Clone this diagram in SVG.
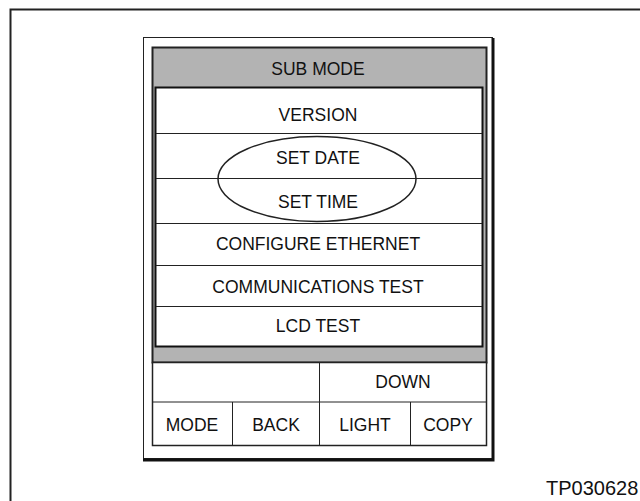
<svg xmlns="http://www.w3.org/2000/svg" width="640" height="501" viewBox="0 0 640 501">
<style>
text{font-family:"Liberation Sans",Arial,sans-serif;font-size:17.5px;fill:#111;text-anchor:middle}
.thin{fill:none;stroke:#222;stroke-width:1}
</style>
<rect x="0" y="0" width="640" height="501" fill="#fff"/>
<path d="M10.5 520 V9.5 H660" fill="none" stroke="#222" stroke-width="2"/>
<g id="panel">
<rect x="143.5" y="37.5" width="349" height="421" fill="#fff" stroke="#222" stroke-width="1"/>
<path d="M493 38 V460 H143" fill="none" stroke="#111" stroke-width="3"/>
</g>
<g id="screen">
<rect x="152.5" y="47.5" width="334" height="315" fill="#b3b3b3" stroke="#222" stroke-width="2"/>
<text x="318" y="75">SUB MODE</text>
</g>
<g id="list">
<rect x="155.5" y="87.5" width="327" height="259" fill="#fff" stroke="#111" stroke-width="2"/>
</g>
<g id="version"><line class="thin" x1="156" y1="133.5" x2="482" y2="133.5"/><text x="318" y="121">VERSION</text></g>
<g id="set-date"><line class="thin" x1="156" y1="178.5" x2="482" y2="178.5"/><text x="318" y="164">SET DATE</text></g>
<g id="set-time"><line class="thin" x1="156" y1="223.5" x2="482" y2="223.5"/><text x="318" y="208">SET TIME</text></g>
<g id="configure-ethernet"><line class="thin" x1="156" y1="265.5" x2="482" y2="265.5"/><text x="318" y="250">CONFIGURE ETHERNET</text></g>
<g id="communications-test"><line class="thin" x1="156" y1="306.5" x2="482" y2="306.5"/><text x="318" y="293">COMMUNICATIONS TEST</text></g>
<g id="lcd-test"><text x="318" y="332">LCD TEST</text></g>
<g id="highlight"><ellipse cx="317" cy="179" rx="99" ry="42.5" fill="none" stroke="#222" stroke-width="1.5"/></g>
<g id="buttons">
<rect x="152.5" y="362.5" width="334" height="83" fill="#fff" stroke="#222" stroke-width="1.5"/>
<line class="thin" x1="152" y1="402" x2="486" y2="402"/>
<line class="thin" x1="319.5" y1="362" x2="319.5" y2="446"/>
<line class="thin" x1="232.5" y1="402" x2="232.5" y2="446"/>
<line class="thin" x1="410.5" y1="402" x2="410.5" y2="446"/>
<text x="403" y="388">DOWN</text>
<text x="192" y="431">MODE</text>
<text x="276" y="431">BACK</text>
<text x="365" y="431">LIGHT</text>
<text x="448" y="431">COPY</text>
</g>
<text x="546" y="495" style="text-anchor:start;font-size:20px">TP030628</text>
</svg>
